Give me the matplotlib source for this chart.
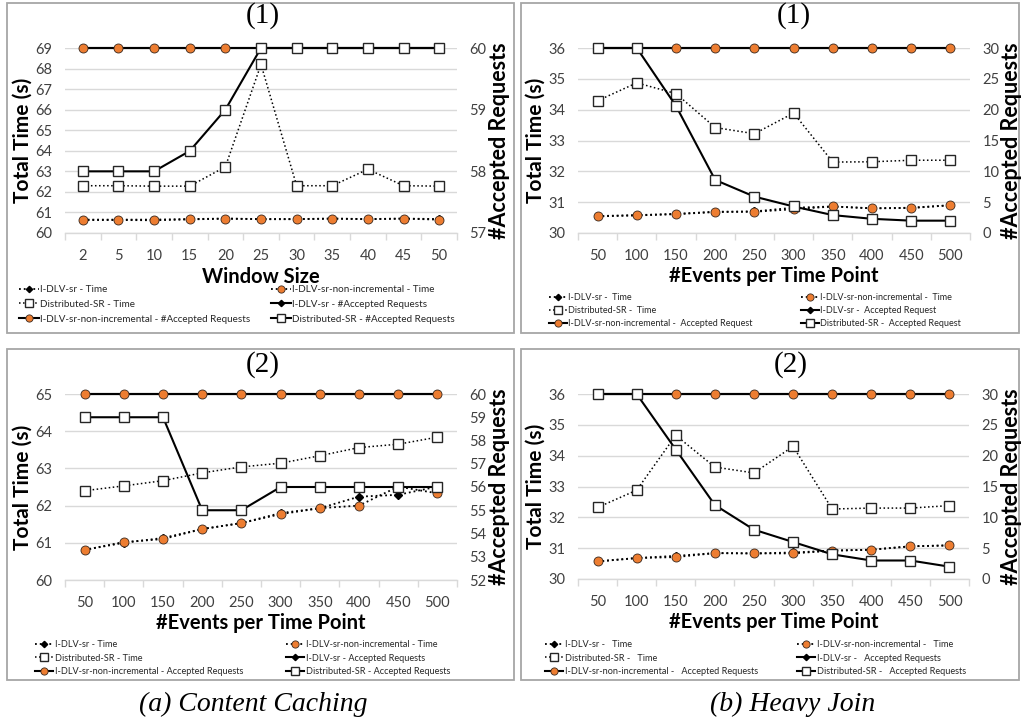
import numpy as np
import matplotlib
matplotlib.use("Agg")
import matplotlib.pyplot as plt
from matplotlib.patches import Rectangle

plt.rcParams['font.family'] = ['Lato', 'DejaVu Sans']

# ---------------- data ----------------
# (a)(1) Content Caching - Window Size
a1_x = ['2', '5', '10', '15', '20', '25', '30', '35', '40', '45', '50']
a1_idlv_time = [60.65, 60.65, 60.65, 60.68, 60.70, 60.68, 60.68, 60.70, 60.68, 60.70, 60.68]
a1_nonincr_time = [60.63, 60.63, 60.62, 60.66, 60.70, 60.67, 60.67, 60.70, 60.67, 60.70, 60.65]
a1_dist_time = [62.30, 62.30, 62.28, 62.28, 63.22, 68.20, 62.30, 62.30, 63.10, 62.30, 62.28]
a1_idlv_acc = [60, 60, 60, 60, 60, 60, 60, 60, 60, 60, 60]
a1_nonincr_acc = [60, 60, 60, 60, 60, 60, 60, 60, 60, 60, 60]
a1_dist_acc = [58, 58, 58, 58.33, 59, 60, 60, 60, 60, 60, 60]

# (b)(1) Heavy Join - Events per time point
b1_x = ['50', '100', '150', '200', '250', '300', '350', '400', '450', '500']
b1_idlv_time = [30.55, 30.58, 30.62, 30.69, 30.70, 30.82, 30.86, 30.80, 30.82, 30.90]
b1_nonincr_time = [30.54, 30.57, 30.61, 30.68, 30.69, 30.77, 30.86, 30.80, 30.81, 30.90]
b1_dist_time = [34.29, 34.87, 34.52, 33.42, 33.22, 33.89, 32.30, 32.31, 32.36, 32.36]
b1_idlv_acc = [30, 30, 30, 30, 30, 30, 30, 30, 30, 30]
b1_nonincr_acc = [30, 30, 30, 30, 30, 30, 30, 30, 30, 30]
b1_dist_acc = [30, 30, 20.6, 8.6, 5.9, 4.3, 2.9, 2.3, 2.0, 2.0]

# (a)(2) Content Caching - Events per time point
a2_x = ['50', '100', '150', '200', '250', '300', '350', '400', '450', '500']
a2_idlv_time = [60.81, 61.00, 61.13, 61.37, 61.53, 61.80, 61.93, 62.24, 62.29, 62.51]
a2_nonincr_time = [60.81, 61.02, 61.10, 61.37, 61.53, 61.77, 61.93, 62.00, 62.51, 62.33]
a2_dist_time = [62.40, 62.53, 62.67, 62.88, 63.04, 63.14, 63.34, 63.56, 63.65, 63.84]
a2_idlv_acc = [60, 60, 60, 60, 60, 60, 60, 60, 60, 60]
a2_nonincr_acc = [60, 60, 60, 60, 60, 60, 60, 60, 60, 60]
a2_dist_acc = [59, 59, 59, 55, 55, 56, 56, 56, 56, 56]

# (b)(2) Heavy Join - Events per time point
b2_x = ['50', '100', '150', '200', '250', '300', '350', '400', '450', '500']
b2_idlv_time = [30.57, 30.68, 30.75, 30.84, 30.83, 30.86, 30.92, 30.95, 31.06, 31.09]
b2_nonincr_time = [30.57, 30.68, 30.71, 30.84, 30.83, 30.83, 30.92, 30.95, 31.06, 31.09]
b2_dist_time = [32.32, 32.88, 34.66, 33.63, 33.44, 34.30, 32.27, 32.30, 32.30, 32.38]
b2_idlv_acc = [30, 30, 30, 30, 30, 30, 30, 30, 30, 30]
b2_nonincr_acc = [30, 30, 30, 30, 30, 30, 30, 30, 30, 30]
b2_dist_acc = [30, 30, 21, 12, 8, 6, 4, 3, 3, 2]

a_labels = ['I-DLV-sr - Time', 'I-DLV-sr-non-incremental - Time', 'Distributed-SR - Time',
            'I-DLV-sr - #Accepted Requests', 'I-DLV-sr-non-incremental - #Accepted Requests',
            'Distributed-SR - #Accepted Requests']
b1_labels = ['I-DLV-sr -  Time', 'I-DLV-sr-non-incremental -  Time', 'Distributed-SR -  Time',
             'I-DLV-sr -  Accepted Request', 'I-DLV-sr-non-incremental -  Accepted Request',
             'Distributed-SR -  Accepted Request']
a2_labels = ['I-DLV-sr - Time', 'I-DLV-sr-non-incremental - Time', 'Distributed-SR - Time',
             'I-DLV-sr - Accepted Requests', 'I-DLV-sr-non-incremental - Accepted Requests',
             'Distributed-SR - Accepted Requests']
b2_labels = ['I-DLV-sr -   Time', 'I-DLV-sr-non-incremental -   Time', 'Distributed-SR -   Time',
             'I-DLV-sr -   Accepted Requests', 'I-DLV-sr-non-incremental -   Accepted Requests',
             'Distributed-SR -   Accepted Requests']

# ---------------- layout ----------------
W, H = 1022, 722
fig = plt.figure(figsize=(W / 100, H / 100), dpi=100)
fig.patch.set_facecolor('white')

ORANGE = '#ED7D31'
GRID = '#d9d9d9'
TICKC = '#404040'


def fx(x):
    return x / W


def fy(y):
    return 1 - y / H


def panel(box, axpx, data, xcats, ylim, yticks, ylim2, yticks2, xlabel, title,
          title_y, xlab_y, ylab_x, ylab2_x, leg_pos, labels, leg_fs, leg_sp):
    # panel border
    fig.add_artist(Rectangle((fx(box[0]), fy(box[3])), (box[2] - box[0]) / W,
                             (box[3] - box[1]) / H, transform=fig.transFigure,
                             fill=False, edgecolor='#a6a6a6', lw=1.3))
    x0, y0, x1, y1 = axpx
    ax = fig.add_axes([fx(x0), fy(y1), (x1 - x0) / W, (y1 - y0) / H])
    ax2 = ax.twinx()
    n = len(xcats)
    xi = np.arange(n)
    it, nt, dt, ia, na, da = data
    sq = dict(marker='s', ms=7, mfc='white', mec='#262626', mew=1.0)
    ci = dict(marker='o', ms=6.5, mfc=ORANGE, mec='#3a2a20', mew=0.6)
    di = dict(marker='D', ms=4, mfc='black', mec='black')
    h1 = ax.plot(xi, it, ls=':', color='black', lw=1.3, clip_on=False, **di)[0]
    h2 = ax.plot(xi, nt, ls=':', color='black', lw=1.3, clip_on=False, **ci)[0]
    h3 = ax.plot(xi, dt, ls=':', color='black', lw=1.1, clip_on=False, **sq)[0]
    h4 = ax2.plot(xi, ia, ls='-', color='black', lw=1.5, clip_on=False, **di)[0]
    h5 = ax2.plot(xi, na, ls='-', color='black', lw=1.5, clip_on=False, **ci)[0]
    h6 = ax2.plot(xi, da, ls='-', color='black', lw=1.5, clip_on=False, **sq)[0]

    ax.set_xlim(-0.5, n - 0.5)
    ax.set_ylim(*ylim)
    ax.set_yticks(yticks)
    ax2.set_ylim(*ylim2)
    ax2.set_yticks(yticks2)
    ax.set_xticks(xi)
    ax.set_xticklabels(xcats)
    ax.set_xticks(np.arange(-0.5, n, 1.0), minor=True)
    ax.tick_params(axis='x', which='major', length=0, pad=11.5, labelsize=10.5, labelcolor=TICKC)
    ax.tick_params(axis='x', which='minor', length=5, color=GRID, width=1)
    ax.tick_params(axis='y', length=0, pad=9, labelsize=10.5, labelcolor=TICKC)
    ax2.tick_params(axis='y', length=0, pad=9, labelsize=10.5, labelcolor=TICKC)
    for s in ['top', 'left', 'right']:
        ax.spines[s].set_visible(False)
    ax.spines['bottom'].set_color(GRID)
    ax.spines['bottom'].set_linewidth(1)
    for s in ax2.spines.values():
        s.set_visible(False)
    ax.yaxis.grid(True, color=GRID, lw=1)
    ax.set_axisbelow(True)
    ax.patch.set_visible(False)

    fig.text(fx((x0 + x1) / 2), fy(xlab_y), xlabel, ha='center', va='center',
             fontsize=14.5, fontweight='bold')
    fig.text(fx(ylab_x), fy((y0 + y1) / 2), 'Total Time (s)', ha='center', va='center',
             rotation=90, fontsize=15, fontweight='bold')
    fig.text(fx(ylab2_x), fy((y0 + y1) / 2), '#Accepted Requests', ha='center', va='center',
             rotation=90, fontsize=15.5, fontweight='bold')
    fig.text(fx(title[1]), fy(title_y), title[0], ha='center', va='center',
             fontsize=21, family='Liberation Serif')

    col1 = [(h1, labels[0]), (h3, labels[2]), (h5, labels[4])]
    col2 = [(h2, labels[1]), (h4, labels[3]), (h6, labels[5])]
    for (px, py), col in zip(leg_pos, [col1, col2]):
        lg = fig.legend([c[0] for c in col], [c[1] for c in col], loc='upper left',
                        bbox_to_anchor=(fx(px), fy(py)), frameon=False, fontsize=leg_fs,
                        borderpad=0, borderaxespad=0, handlelength=2.0, handletextpad=0.15,
                        labelspacing=leg_sp, markerscale=0.8)
        for t in lg.get_texts():
            t.set_color('#262626')
    return ax, ax2


panel(box=(7, 3, 514, 333), axpx=(65, 48, 457, 233),
      data=(a1_idlv_time, a1_nonincr_time, a1_dist_time, a1_idlv_acc, a1_nonincr_acc, a1_dist_acc),
      xcats=a1_x, ylim=(60, 69), yticks=range(60, 70), ylim2=(57, 60), yticks2=range(57, 61),
      xlabel='Window Size', title=('(1)', 263), title_y=16, xlab_y=277, ylab_x=23, ylab2_x=499,
      leg_pos=[(19, 285), (271, 285)], labels=a_labels, leg_fs=7.1, leg_sp=0.6)

panel(box=(521, 3, 1019, 333), axpx=(578, 48, 970, 233),
      data=(b1_idlv_time, b1_nonincr_time, b1_dist_time, b1_idlv_acc, b1_nonincr_acc, b1_dist_acc),
      xcats=b1_x, ylim=(30, 36), yticks=range(30, 37), ylim2=(0, 30), yticks2=range(0, 31, 5),
      xlabel='#Events per Time Point', title=('(1)', 794), title_y=16, xlab_y=276, ylab_x=536,
      ylab2_x=1012, leg_pos=[(549, 293), (801, 293)], labels=b1_labels, leg_fs=6.5, leg_sp=0.45)

panel(box=(7, 349, 514, 680), axpx=(65, 394, 457, 580),
      data=(a2_idlv_time, a2_nonincr_time, a2_dist_time, a2_idlv_acc, a2_nonincr_acc, a2_dist_acc),
      xcats=a2_x, ylim=(60, 65), yticks=range(60, 66), ylim2=(52, 60), yticks2=range(52, 61),
      xlabel='#Events per Time Point', title=('(2)', 263), title_y=365, xlab_y=623, ylab_x=23,
      ylab2_x=499, leg_pos=[(35, 640), (286, 640)], labels=a2_labels, leg_fs=6.6, leg_sp=0.5)

panel(box=(521, 349, 1019, 680), axpx=(578, 394, 969, 579),
      data=(b2_idlv_time, b2_nonincr_time, b2_dist_time, b2_idlv_acc, b2_nonincr_acc, b2_dist_acc),
      xcats=b2_x, ylim=(30, 36), yticks=range(30, 37), ylim2=(0, 30), yticks2=range(0, 31, 5),
      xlabel='#Events per Time Point', title=('(2)', 791), title_y=365, xlab_y=622, ylab_x=536,
      ylab2_x=1012, leg_pos=[(545, 640), (797, 640)], labels=b2_labels, leg_fs=6.6, leg_sp=0.5)

fig.text(fx(253), fy(704), '(a) Content Caching', ha='center', va='center', fontsize=20,
         family='Liberation Serif', style='italic')
fig.text(fx(793), fy(704), '(b) Heavy Join', ha='center', va='center', fontsize=20,
         family='Liberation Serif', style='italic')

fig.savefig('out.png', dpi=100, facecolor='white')
